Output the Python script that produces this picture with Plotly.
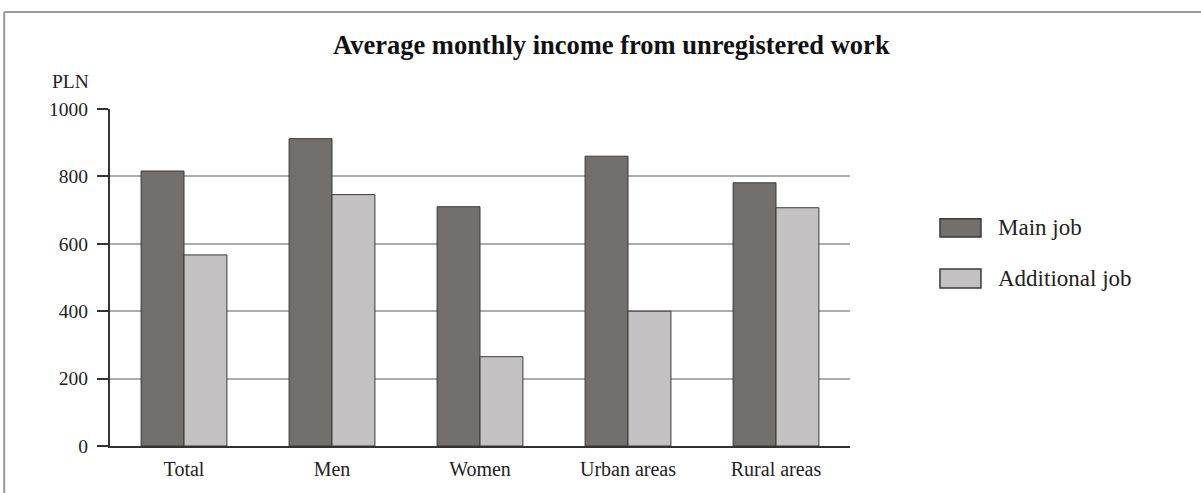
"""Average monthly income from unregistered work — grouped bar chart."""

import plotly.graph_objects as go

# ── data ─────────────────────────────────────────────────────────────

categories = ["Total", "Men", "Women", "Urban areas", "Rural areas"]
main_job = [816, 912, 710, 860, 781]
additional_job = [567, 746, 265, 400, 707]
y_ticks = [0, 200, 400, 600, 800, 1000]
series_names = ["Main job", "Additional job"]

# ── style ────────────────────────────────────────────────────────────

FONT = "Liberation Serif, Times New Roman, serif"
MAIN_COLOR = "#736f6c"
ADD_COLOR = "#c3c1c1"
EDGE = "#3a3a3a"
TEXT = "#222"

# ── chart ────────────────────────────────────────────────────────────

fig = go.Figure()
for name, values, color in zip(series_names, [main_job, additional_job], [MAIN_COLOR, ADD_COLOR]):
    fig.add_trace(
        go.Bar(
            name=name,
            x=categories,
            y=values,
            marker={"color": color, "line": {"color": EDGE, "width": 1}},
            showlegend=False,
        )
    )

fig.update_layout(
    width=1201,
    height=493,
    margin={"l": 110, "r": 351, "t": 109, "b": 47},
    paper_bgcolor="white",
    plot_bgcolor="white",
    barmode="group",
    bargap=0.42,
    bargroupgap=0,
    font={"family": FONT, "size": 20, "color": TEXT},
    title={
        "text": "<b>Average monthly income from unregistered work</b>",
        "x": 0.509,
        "xanchor": "center",
        "y": 1 - 45 / 493,
        "yanchor": "middle",
        "yref": "container",
        "font": {"family": FONT, "size": 26.5, "color": "#111"},
    },
)

fig.update_xaxes(
    showline=True,
    linecolor="#333",
    linewidth=2,
    ticks="",
    showgrid=False,
    ticklabelstandoff=4,
    tickfont={"family": FONT, "size": 20, "color": TEXT},
)
fig.update_yaxes(
    range=[0, 1000],
    tickvals=y_ticks,
    showline=True,
    linecolor="#333",
    linewidth=2,
    ticks="outside",
    ticklen=11,
    tickwidth=2,
    tickcolor="#333",
    ticklabelstandoff=5,
    showgrid=True,
    gridcolor="#adadad",
    gridwidth=2,
    zeroline=False,
    tickfont={"family": FONT, "size": 19.5, "color": TEXT},
)

# unit label above the y axis
fig.add_annotation(
    text="PLN",
    xref="paper",
    yref="paper",
    x=-0.053,
    y=1.083,
    xanchor="center",
    yanchor="middle",
    showarrow=False,
    font={"family": FONT, "size": 19.5, "color": TEXT},
)

# legend drawn with large swatches like the original
legend_rows = [(0.620, 0.674, 0.647), (0.469, 0.525, 0.496)]
for name, color, (y0, y1, ytxt) in zip(series_names, [MAIN_COLOR, ADD_COLOR], legend_rows):
    fig.add_shape(
        type="rect", xref="paper", yref="paper",
        x0=1.1216, x1=1.177, y0=y0, y1=y1,
        fillcolor=color, line={"color": EDGE, "width": 1.5},
    )
    fig.add_annotation(
        text=name, xref="paper", yref="paper",
        x=1.197, y=ytxt, xanchor="left", yanchor="middle",
        showarrow=False,
        font={"family": FONT, "size": 23, "color": TEXT},
    )

# grey frame (top and left edges visible in the original)
fig.add_shape(
    type="line", xref="paper", yref="paper",
    x0=-0.143, x1=1.5, y0=1.288, y1=1.288,
    line={"color": "#9a9a9a", "width": 2},
)
fig.add_shape(
    type="line", xref="paper", yref="paper",
    x0=-0.143, x1=-0.143, y0=1.288, y1=-0.2,
    line={"color": "#9a9a9a", "width": 2},
)

fig.write_html(
    "out.html",
    config={"displayModeBar": False},
    post_script="document.body.style.margin = '0';",
)
